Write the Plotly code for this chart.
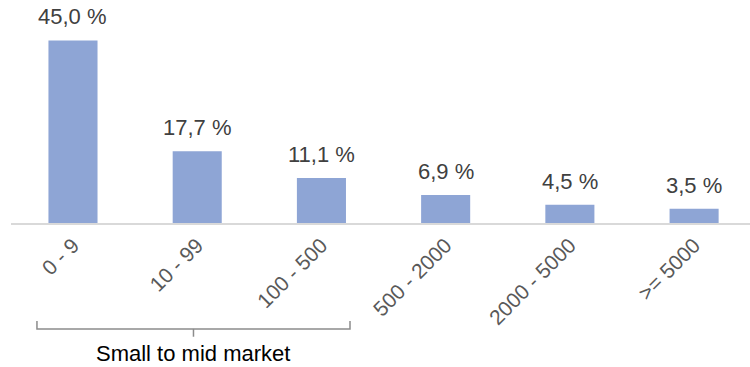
import plotly.graph_objects as go

# Company size buckets (employees) and share of companies in each
categories = ["0 - 9", "10 - 99", "100 - 500", "500 - 2000", "2000 - 5000", ">= 5000"]
shares = [45.0, 17.7, 11.1, 6.9, 4.5, 3.5]
group_label = "Small to mid market"

BAR_COLOR = "#8ea5d5"
FONT = "Liberation Sans, Arial, sans-serif"

fig = go.Figure(
    go.Bar(
        x=list(range(len(categories))),
        y=shares,
        width=0.395,
        marker=dict(color=BAR_COLOR, line=dict(width=0)),
        hoverinfo="skip",
    )
)

# value labels above each bar, comma decimal separator
for i, v in enumerate(shares):
    fig.add_annotation(
        x=i, y=v, xref="x", yref="y",
        text=f"{v:.1f}".replace(".", ",") + " %",
        showarrow=False, yanchor="bottom", yshift=9,
        font=dict(family=FONT, size=22, color="#404040"),
    )

# bracket grouping the first three buckets
br_color = "#8c8c8c"
x0, x1, xm = -0.29, 2.23, 0.97
y_line, y_end, y_tick = -0.475, -0.44, -0.51
fig.add_shape(type="path", xref="x", yref="paper",
              path=f"M {x0},{y_end} L {x0},{y_line} L {x1},{y_line} L {x1},{y_end}",
              line=dict(color=br_color, width=1.5))
fig.add_shape(type="line", xref="x", yref="paper",
              x0=xm, x1=xm, y0=y_line, y1=y_tick,
              line=dict(color=br_color, width=1.5))
fig.add_annotation(
    x=xm, y=-0.585, xref="x", yref="paper",
    text=group_label, showarrow=False, yanchor="middle",
    font=dict(family=FONT, size=22, color="#000000"),
)

fig.update_layout(
    width=750, height=367,
    margin=dict(l=11, r=0, t=0, b=144),
    plot_bgcolor="white", paper_bgcolor="white",
    showlegend=False,
    xaxis=dict(
        range=[-0.499, 5.45],
        tickmode="array",
        tickvals=list(range(len(categories))),
        ticktext=categories,
        tickangle=-45,
        tickfont=dict(family=FONT, size=21, color="#595959"),
        showgrid=False, zeroline=False,
        showline=True, linecolor="#d9d9d9", linewidth=1.5,
        ticks="", fixedrange=True,
    ),
    yaxis=dict(
        range=[0, 54.95],
        visible=False,
        showgrid=False, zeroline=False, fixedrange=True,
    ),
)

fig.write_html("out.html")
